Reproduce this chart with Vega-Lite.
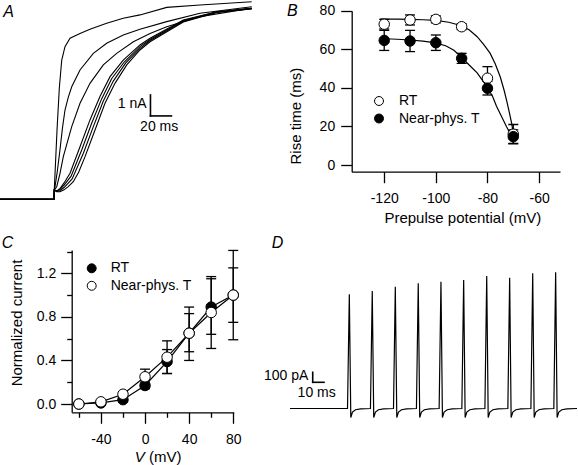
{
  "$schema": "https://vega.github.io/schema/vega-lite/v6.json",
  "width": 578,
  "height": 465,
  "padding": 0,
  "autosize": {"type": "none"},
  "background": "white",
  "config": {
    "view": {"stroke": null},
    "font": "Liberation Sans",
    "axis": {
      "grid": false,
      "domainColor": "black",
      "tickColor": "black",
      "labelColor": "black",
      "titleColor": "black",
      "domainWidth": 1.3,
      "tickWidth": 1.3,
      "labelFont": "Liberation Sans",
      "labelFontSize": 14,
      "titleFont": "Liberation Sans",
      "titleFontSize": 15,
      "titleFontWeight": "normal",
      "labelFlush": false,
      "labelOverlap": false,
      "tickSize": 11
    },
    "text": {"font": "Liberation Sans", "color": "black"}
  },
  "datasets": {
    "traceA": [
      {"trace": 1, "t": 0, "i": 0}, {"trace": 1, "t": 51.5, "i": 0}, {"trace": 1, "t": 51.7, "i": 0.44}, {"trace": 1, "t": 54.3, "i": 3.3}, {"trace": 1, "t": 56.5, "i": 5.3}, {"trace": 1, "t": 58.8, "i": 6.63}, {"trace": 1, "t": 61.9, "i": 7.27}, {"trace": 1, "t": 66.7, "i": 7.67}, {"trace": 1, "t": 76.2, "i": 7.9}, {"trace": 1, "t": 85.7, "i": 8.1}, {"trace": 1, "t": 101.6, "i": 8.38}, {"trace": 1, "t": 117.4, "i": 8.62}, {"trace": 1, "t": 133.3, "i": 8.78}, {"trace": 1, "t": 158.8, "i": 9.14}, {"trace": 1, "t": 190.5, "i": 9.25}, {"trace": 1, "t": 239.7, "i": 9.41},
      {"trace": 2, "t": 0, "i": 0}, {"trace": 2, "t": 51.5, "i": 0}, {"trace": 2, "t": 51.7, "i": 0.44}, {"trace": 2, "t": 52.4, "i": 0.6}, {"trace": 2, "t": 54.5, "i": 1.3}, {"trace": 2, "t": 57.1, "i": 2.35}, {"trace": 2, "t": 59.5, "i": 3.4}, {"trace": 2, "t": 61.9, "i": 4.25}, {"trace": 2, "t": 65, "i": 4.85}, {"trace": 2, "t": 68.3, "i": 5.36}, {"trace": 2, "t": 76.2, "i": 6.16}, {"trace": 2, "t": 88.9, "i": 6.95}, {"trace": 2, "t": 101.6, "i": 7.43}, {"trace": 2, "t": 117.4, "i": 7.82}, {"trace": 2, "t": 133.3, "i": 8.1}, {"trace": 2, "t": 158.8, "i": 8.46}, {"trace": 2, "t": 190.5, "i": 8.86}, {"trace": 2, "t": 239.7, "i": 9.17},
      {"trace": 3, "t": 0, "i": 0}, {"trace": 3, "t": 51.5, "i": 0}, {"trace": 3, "t": 51.7, "i": 0.44}, {"trace": 3, "t": 54, "i": 0.6}, {"trace": 3, "t": 57, "i": 1.2}, {"trace": 3, "t": 60.3, "i": 2.03}, {"trace": 3, "t": 68.3, "i": 3.46}, {"trace": 3, "t": 76.2, "i": 4.57}, {"trace": 3, "t": 85.7, "i": 5.52}, {"trace": 3, "t": 98.4, "i": 6.4}, {"trace": 3, "t": 111.1, "i": 6.95}, {"trace": 3, "t": 127, "i": 7.5}, {"trace": 3, "t": 142.9, "i": 7.9}, {"trace": 3, "t": 158.8, "i": 8.22}, {"trace": 3, "t": 190.5, "i": 8.7}, {"trace": 3, "t": 239.7, "i": 9.1},
      {"trace": 4, "t": 0, "i": 0}, {"trace": 4, "t": 51.5, "i": 0}, {"trace": 4, "t": 51.7, "i": 0.44}, {"trace": 4, "t": 54, "i": 0.4}, {"trace": 4, "t": 57, "i": 0.5}, {"trace": 4, "t": 61, "i": 0.78}, {"trace": 4, "t": 66.7, "i": 1.24}, {"trace": 4, "t": 76.2, "i": 2.5}, {"trace": 4, "t": 85.7, "i": 3.78}, {"trace": 4, "t": 95.2, "i": 4.89}, {"trace": 4, "t": 104.8, "i": 5.84}, {"trace": 4, "t": 117.4, "i": 6.63}, {"trace": 4, "t": 133.3, "i": 7.35}, {"trace": 4, "t": 142.9, "i": 7.67}, {"trace": 4, "t": 174.6, "i": 8.54}, {"trace": 4, "t": 206.4, "i": 8.93}, {"trace": 4, "t": 239.7, "i": 9.1},
      {"trace": 5, "t": 0, "i": 0}, {"trace": 5, "t": 51.5, "i": 0}, {"trace": 5, "t": 51.7, "i": 0.44}, {"trace": 5, "t": 54, "i": 0.39}, {"trace": 5, "t": 57, "i": 0.46}, {"trace": 5, "t": 61, "i": 0.68}, {"trace": 5, "t": 67.7, "i": 1.1}, {"trace": 5, "t": 77.8, "i": 2.35}, {"trace": 5, "t": 87.3, "i": 3.62}, {"trace": 5, "t": 96.8, "i": 4.78}, {"trace": 5, "t": 106.3, "i": 5.74}, {"trace": 5, "t": 118.5, "i": 6.55}, {"trace": 5, "t": 133.3, "i": 7.27}, {"trace": 5, "t": 142.9, "i": 7.61}, {"trace": 5, "t": 174.6, "i": 8.51}, {"trace": 5, "t": 206.4, "i": 8.92}, {"trace": 5, "t": 239.7, "i": 9.09},
      {"trace": 6, "t": 0, "i": 0}, {"trace": 6, "t": 51.5, "i": 0}, {"trace": 6, "t": 51.7, "i": 0.44}, {"trace": 6, "t": 54, "i": 0.37}, {"trace": 6, "t": 57, "i": 0.41}, {"trace": 6, "t": 61, "i": 0.56}, {"trace": 6, "t": 68.7, "i": 0.97}, {"trace": 6, "t": 79.4, "i": 2.19}, {"trace": 6, "t": 88.9, "i": 3.46}, {"trace": 6, "t": 98.4, "i": 4.68}, {"trace": 6, "t": 107.9, "i": 5.63}, {"trace": 6, "t": 119.6, "i": 6.48}, {"trace": 6, "t": 133.3, "i": 7.19}, {"trace": 6, "t": 142.9, "i": 7.56}, {"trace": 6, "t": 174.6, "i": 8.48}, {"trace": 6, "t": 206.4, "i": 8.91}, {"trace": 6, "t": 239.7, "i": 9.08},
      {"trace": 7, "t": 0, "i": 0}, {"trace": 7, "t": 51.5, "i": 0}, {"trace": 7, "t": 51.7, "i": 0.44}, {"trace": 7, "t": 54, "i": 0.36}, {"trace": 7, "t": 57.1, "i": 0.36}, {"trace": 7, "t": 61, "i": 0.45}, {"trace": 7, "t": 65, "i": 0.6}, {"trace": 7, "t": 69.8, "i": 0.84}, {"trace": 7, "t": 75, "i": 1.3}, {"trace": 7, "t": 81, "i": 2.03}, {"trace": 7, "t": 90.5, "i": 3.3}, {"trace": 7, "t": 100, "i": 4.57}, {"trace": 7, "t": 109.5, "i": 5.52}, {"trace": 7, "t": 120.7, "i": 6.4}, {"trace": 7, "t": 133.3, "i": 7.11}, {"trace": 7, "t": 142.9, "i": 7.5}, {"trace": 7, "t": 174.6, "i": 8.44}, {"trace": 7, "t": 206.4, "i": 8.9}, {"trace": 7, "t": 239.7, "i": 9.06}
    ],
    "Bpts": [
      {"s": "RT", "v": -120, "r": 73.0, "lo": 70.5, "hi": 75.5},
      {"s": "RT", "v": -110, "r": 75.2, "lo": 72.6, "hi": 77.8},
      {"s": "RT", "v": -100, "r": 75.5, "lo": 73.7, "hi": 77.3},
      {"s": "RT", "v": -90, "r": 71.7, "lo": 70.2, "hi": 73.2},
      {"s": "RT", "v": -80, "r": 45.0, "lo": 39.0, "hi": 51.0},
      {"s": "RT", "v": -70, "r": 16.0, "lo": 11.0, "hi": 21.0},
      {"s": "Near-phys. T", "v": -120, "r": 64.6, "lo": 59.4, "hi": 69.8},
      {"s": "Near-phys. T", "v": -110, "r": 64.3, "lo": 58.8, "hi": 69.8},
      {"s": "Near-phys. T", "v": -100, "r": 63.4, "lo": 59.4, "hi": 67.4},
      {"s": "Near-phys. T", "v": -90, "r": 55.3, "lo": 52.7, "hi": 57.9},
      {"s": "Near-phys. T", "v": -80, "r": 39.8, "lo": 36.3, "hi": 43.4},
      {"s": "Near-phys. T", "v": -70, "r": 14.7, "lo": 11.2, "hi": 18.2}
    ],
    "Bfit": [
      {"s": "RT", "v": -121.6, "r": 75.6}, {"s": "RT", "v": -115, "r": 75.6}, {"s": "RT", "v": -110, "r": 75.5}, {"s": "RT", "v": -105, "r": 75.3}, {"s": "RT", "v": -100, "r": 75.0}, {"s": "RT", "v": -95, "r": 74.0}, {"s": "RT", "v": -90, "r": 72.2}, {"s": "RT", "v": -87, "r": 70.0}, {"s": "RT", "v": -84, "r": 66.5}, {"s": "RT", "v": -81.5, "r": 62.5}, {"s": "RT", "v": -79, "r": 58.0}, {"s": "RT", "v": -77, "r": 52.5}, {"s": "RT", "v": -75, "r": 45.5}, {"s": "RT", "v": -73.5, "r": 38.5}, {"s": "RT", "v": -72.5, "r": 33.0}, {"s": "RT", "v": -71.5, "r": 27.0}, {"s": "RT", "v": -70.6, "r": 21.5}, {"s": "RT", "v": -70, "r": 16.5},
      {"s": "Near", "v": -121.6, "r": 65.6}, {"s": "Near", "v": -115, "r": 65.2}, {"s": "Near", "v": -110, "r": 64.8}, {"s": "Near", "v": -105, "r": 64.2}, {"s": "Near", "v": -100, "r": 63.3}, {"s": "Near", "v": -96, "r": 61.7}, {"s": "Near", "v": -93, "r": 59.5}, {"s": "Near", "v": -90, "r": 55.8}, {"s": "Near", "v": -87, "r": 51.7}, {"s": "Near", "v": -84, "r": 47.8}, {"s": "Near", "v": -82, "r": 44.0}, {"s": "Near", "v": -80, "r": 40.2}, {"s": "Near", "v": -78, "r": 35.5}, {"s": "Near", "v": -76.5, "r": 30.5}, {"s": "Near", "v": -74.5, "r": 25.0}, {"s": "Near", "v": -72.6, "r": 19.8}, {"s": "Near", "v": -71.5, "r": 17.0}, {"s": "Near", "v": -70.3, "r": 14.7}
    ],
    "Cpts": [
      {"s": "RT", "v": -60, "n": 0.0, "lo": 0.0, "hi": 0.0},
      {"s": "RT", "v": -40, "n": 0.01, "lo": 0.0, "hi": 0.02},
      {"s": "RT", "v": -20, "n": 0.04, "lo": 0.02, "hi": 0.06},
      {"s": "RT", "v": 0, "n": 0.17, "lo": 0.14, "hi": 0.2},
      {"s": "RT", "v": 20, "n": 0.39, "lo": 0.28, "hi": 0.5},
      {"s": "RT", "v": 40, "n": 0.65, "lo": 0.4, "hi": 0.89},
      {"s": "RT", "v": 60, "n": 0.89, "lo": 0.64, "hi": 1.17},
      {"s": "RT", "v": 80, "n": 1.0, "lo": 0.59, "hi": 1.41},
      {"s": "Near-phys. T", "v": -60, "n": 0.0, "lo": 0.0, "hi": 0.0},
      {"s": "Near-phys. T", "v": -40, "n": 0.02, "lo": 0.01, "hi": 0.03},
      {"s": "Near-phys. T", "v": -20, "n": 0.09, "lo": 0.07, "hi": 0.11},
      {"s": "Near-phys. T", "v": 0, "n": 0.25, "lo": 0.18, "hi": 0.32},
      {"s": "Near-phys. T", "v": 20, "n": 0.43, "lo": 0.28, "hi": 0.58},
      {"s": "Near-phys. T", "v": 40, "n": 0.65, "lo": 0.48, "hi": 0.83},
      {"s": "Near-phys. T", "v": 60, "n": 0.84, "lo": 0.51, "hi": 1.15},
      {"s": "Near-phys. T", "v": 80, "n": 1.0, "lo": 0.75, "hi": 1.25}
    ],
    "traceD": [
      {"t": 0, "p": 0},
      {"t": 50.9, "p": 0}, {"t": 52.5, "p": 1142}, {"t": 53.8, "p": -90}, {"t": 55.3, "p": -35}, {"t": 58, "p": -12}, {"t": 62.5, "p": -3},
      {"t": 71.2, "p": 0}, {"t": 72.8, "p": 1175}, {"t": 74.1, "p": -90}, {"t": 75.6, "p": -35}, {"t": 78.3, "p": -12}, {"t": 82.8, "p": -3},
      {"t": 91.6, "p": 0}, {"t": 93.2, "p": 1218}, {"t": 94.5, "p": -90}, {"t": 96, "p": -35}, {"t": 98.7, "p": -12}, {"t": 103.2, "p": -3},
      {"t": 111.9, "p": 0}, {"t": 113.5, "p": 1252}, {"t": 114.8, "p": -90}, {"t": 116.3, "p": -35}, {"t": 119, "p": -12}, {"t": 123.5, "p": -3},
      {"t": 132, "p": 0}, {"t": 133.6, "p": 1268}, {"t": 134.9, "p": -90}, {"t": 136.4, "p": -35}, {"t": 139.1, "p": -12}, {"t": 143.6, "p": -3},
      {"t": 152.1, "p": 0}, {"t": 153.7, "p": 1285}, {"t": 155, "p": -90}, {"t": 156.5, "p": -35}, {"t": 159.2, "p": -12}, {"t": 163.7, "p": -3},
      {"t": 172.5, "p": 0}, {"t": 174.1, "p": 1325}, {"t": 175.4, "p": -90}, {"t": 176.9, "p": -35}, {"t": 179.6, "p": -12}, {"t": 184.1, "p": -3},
      {"t": 192.8, "p": 0}, {"t": 194.4, "p": 1308}, {"t": 195.7, "p": -90}, {"t": 197.2, "p": -35}, {"t": 199.9, "p": -12}, {"t": 204.4, "p": -3},
      {"t": 213.2, "p": 0}, {"t": 214.8, "p": 1352}, {"t": 216.1, "p": -90}, {"t": 217.6, "p": -35}, {"t": 220.3, "p": -12}, {"t": 224.8, "p": -3},
      {"t": 233.5, "p": 0}, {"t": 235.1, "p": 1362}, {"t": 236.4, "p": -90}, {"t": 237.9, "p": -35}, {"t": 240.6, "p": -12}, {"t": 245.1, "p": -3},
      {"t": 254, "p": 0}
    ]
  },
  "layer": [
    {
      "layer": [
        {
          "data": {"name": "traceA"},
          "mark": {"type": "line", "color": "black", "strokeWidth": 1.1},
          "encoding": {
            "x": {"field": "t", "type": "quantitative", "scale": {"domain": [0, 240], "range": [0, 252], "nice": false, "zero": false}, "axis": null},
            "y": {"field": "i", "type": "quantitative", "scale": {"domain": [0, 9.49], "range": [199.3, 0], "nice": false, "zero": false}, "axis": null},
            "detail": {"field": "trace", "type": "nominal"}
          }
        },
        {
          "data": {"values": [{"x1": 143.3, "x2": 143.3, "y1": 3.97, "y2": 4.97}, {"x1": 143.3, "x2": 163.3, "y1": 3.97, "y2": 3.97}]},
          "mark": {"type": "rule", "color": "black", "strokeWidth": 1.6, "strokeCap": "square"},
          "encoding": {
            "x": {"field": "x1", "type": "quantitative", "scale": {"domain": [0, 240], "range": [0, 252], "nice": false, "zero": false}, "axis": null},
            "x2": {"field": "x2"},
            "y": {"field": "y1", "type": "quantitative", "scale": {"domain": [0, 9.49], "range": [199.3, 0], "nice": false, "zero": false}, "axis": null},
            "y2": {"field": "y2"}
          }
        },
        {
          "data": {"values": [{"t": 139.7, "i": 4.36, "label": "1 nA"}]},
          "mark": {"type": "text", "align": "right", "baseline": "alphabetic", "fontSize": 14},
          "encoding": {
            "x": {"field": "t", "type": "quantitative", "scale": {"domain": [0, 240], "range": [0, 252], "nice": false, "zero": false}, "axis": null},
            "y": {"field": "i", "type": "quantitative", "scale": {"domain": [0, 9.49], "range": [199.3, 0], "nice": false, "zero": false}, "axis": null},
            "text": {"field": "label"}
          }
        },
        {
          "data": {"values": [{"t": 151.6, "i": 3.27, "label": "20 ms"}]},
          "mark": {"type": "text", "align": "center", "baseline": "alphabetic", "fontSize": 14},
          "encoding": {
            "x": {"field": "t", "type": "quantitative", "scale": {"domain": [0, 240], "range": [0, 252], "nice": false, "zero": false}, "axis": null},
            "y": {"field": "i", "type": "quantitative", "scale": {"domain": [0, 9.49], "range": [199.3, 0], "nice": false, "zero": false}, "axis": null},
            "text": {"field": "label"}
          }
        },
        {
          "data": {"values": [{"t": 3.1, "i": 8.7, "label": "A"}]},
          "mark": {"type": "text", "align": "left", "baseline": "alphabetic", "fontSize": 16, "fontStyle": "italic"},
          "encoding": {
            "x": {"field": "t", "type": "quantitative", "scale": {"domain": [0, 240], "range": [0, 252], "nice": false, "zero": false}, "axis": null},
            "y": {"field": "i", "type": "quantitative", "scale": {"domain": [0, 9.49], "range": [199.3, 0], "nice": false, "zero": false}, "axis": null},
            "text": {"field": "label"}
          }
        }
      ]
    },
    {
      "layer": [
        {
          "data": {"name": "Bpts"},
          "mark": {"type": "rule", "color": "black", "strokeWidth": 1.3},
          "encoding": {
            "x": {"field": "v", "type": "quantitative", "scale": {"domain": [-132.6, -51.9], "range": [351.7, 560], "nice": false, "zero": false},
              "axis": {"orient": "bottom", "offset": -293.3, "values": [-120, -100, -80, -60], "labelPadding": 9, "labelExpr": "datum.value < 0 ? '-' + abs(datum.value) : datum.label", "title": "Prepulse potential (mV)", "titleX": 462.3, "titleY": 50.6, "titleAlign": "center", "titleBaseline": "alphabetic", "titleAngle": 0}},
            "y": {"field": "lo", "type": "quantitative", "scale": {"domain": [-3.47, 80], "range": [171.7, 10.7], "nice": false, "zero": false},
              "axis": {"orient": "left", "offset": -351.7, "values": [0, 20, 40, 60, 80], "labelPadding": 6, "title": "Rise time (ms)", "titleX": -51, "titleY": 115.7, "titleAlign": "center", "titleBaseline": "alphabetic", "titleAngle": 270}},
            "y2": {"field": "hi"}
          }
        },
        {
          "data": {"name": "Bpts"},
          "mark": {"type": "tick", "orient": "horizontal", "color": "black", "size": 10, "thickness": 1.3, "opacity": 1},
          "encoding": {
            "x": {"field": "v", "type": "quantitative", "scale": {"domain": [-132.6, -51.9], "range": [351.7, 560], "nice": false, "zero": false},
              "axis": {"orient": "bottom", "offset": -293.3, "values": [-120, -100, -80, -60], "labelPadding": 9, "labelExpr": "datum.value < 0 ? '-' + abs(datum.value) : datum.label", "title": "Prepulse potential (mV)", "titleX": 462.3, "titleY": 50.6, "titleAlign": "center", "titleBaseline": "alphabetic", "titleAngle": 0}},
            "y": {"field": "lo", "type": "quantitative", "scale": {"domain": [-3.47, 80], "range": [171.7, 10.7], "nice": false, "zero": false},
              "axis": {"orient": "left", "offset": -351.7, "values": [0, 20, 40, 60, 80], "labelPadding": 6, "title": "Rise time (ms)", "titleX": -51, "titleY": 115.7, "titleAlign": "center", "titleBaseline": "alphabetic", "titleAngle": 270}}
          }
        },
        {
          "data": {"name": "Bpts"},
          "mark": {"type": "tick", "orient": "horizontal", "color": "black", "size": 10, "thickness": 1.3, "opacity": 1},
          "encoding": {
            "x": {"field": "v", "type": "quantitative", "scale": {"domain": [-132.6, -51.9], "range": [351.7, 560], "nice": false, "zero": false},
              "axis": {"orient": "bottom", "offset": -293.3, "values": [-120, -100, -80, -60], "labelPadding": 9, "labelExpr": "datum.value < 0 ? '-' + abs(datum.value) : datum.label", "title": "Prepulse potential (mV)", "titleX": 462.3, "titleY": 50.6, "titleAlign": "center", "titleBaseline": "alphabetic", "titleAngle": 0}},
            "y": {"field": "hi", "type": "quantitative", "scale": {"domain": [-3.47, 80], "range": [171.7, 10.7], "nice": false, "zero": false},
              "axis": {"orient": "left", "offset": -351.7, "values": [0, 20, 40, 60, 80], "labelPadding": 6, "title": "Rise time (ms)", "titleX": -51, "titleY": 115.7, "titleAlign": "center", "titleBaseline": "alphabetic", "titleAngle": 270}}
          }
        },
        {
          "data": {"name": "Bfit"},
          "mark": {"type": "line", "color": "black", "strokeWidth": 1.2},
          "encoding": {
            "x": {"field": "v", "type": "quantitative", "scale": {"domain": [-132.6, -51.9], "range": [351.7, 560], "nice": false, "zero": false},
              "axis": {"orient": "bottom", "offset": -293.3, "values": [-120, -100, -80, -60], "labelPadding": 9, "labelExpr": "datum.value < 0 ? '-' + abs(datum.value) : datum.label", "title": "Prepulse potential (mV)", "titleX": 462.3, "titleY": 50.6, "titleAlign": "center", "titleBaseline": "alphabetic", "titleAngle": 0}},
            "y": {"field": "r", "type": "quantitative", "scale": {"domain": [-3.47, 80], "range": [171.7, 10.7], "nice": false, "zero": false},
              "axis": {"orient": "left", "offset": -351.7, "values": [0, 20, 40, 60, 80], "labelPadding": 6, "title": "Rise time (ms)", "titleX": -51, "titleY": 115.7, "titleAlign": "center", "titleBaseline": "alphabetic", "titleAngle": 270}},
            "detail": {"field": "s", "type": "nominal"}
          }
        },
        {
          "data": {"name": "Bpts"},
          "mark": {"type": "point", "shape": "circle", "filled": true, "size": 110, "stroke": "black", "strokeWidth": 1, "opacity": 1},
          "encoding": {
            "x": {"field": "v", "type": "quantitative", "scale": {"domain": [-132.6, -51.9], "range": [351.7, 560], "nice": false, "zero": false},
              "axis": {"orient": "bottom", "offset": -293.3, "values": [-120, -100, -80, -60], "labelPadding": 9, "labelExpr": "datum.value < 0 ? '-' + abs(datum.value) : datum.label", "title": "Prepulse potential (mV)", "titleX": 462.3, "titleY": 50.6, "titleAlign": "center", "titleBaseline": "alphabetic", "titleAngle": 0}},
            "y": {"field": "r", "type": "quantitative", "scale": {"domain": [-3.47, 80], "range": [171.7, 10.7], "nice": false, "zero": false},
              "axis": {"orient": "left", "offset": -351.7, "values": [0, 20, 40, 60, 80], "labelPadding": 6, "title": "Rise time (ms)", "titleX": -51, "titleY": 115.7, "titleAlign": "center", "titleBaseline": "alphabetic", "titleAngle": 270}},
            "fill": {"field": "s", "type": "nominal", "scale": {"domain": ["RT", "Near-phys. T"], "range": ["white", "black"]},
              "legend": {"orient": "none", "legendX": 372, "legendY": 94, "title": null, "symbolType": "circle", "symbolSize": 80, "symbolStrokeColor": "black", "symbolStrokeWidth": 1, "labelFontSize": 14, "labelFont": "Liberation Sans", "labelColor": "black", "labelOffset": 13, "rowPadding": 3.5, "padding": 0}}
          }
        },
        {
          "data": {"values": [{"v": -157.7, "r": 77.2, "label": "B"}]},
          "mark": {"type": "text", "align": "left", "baseline": "alphabetic", "fontSize": 16, "fontStyle": "italic"},
          "encoding": {
            "x": {"field": "v", "type": "quantitative", "scale": {"domain": [-132.6, -51.9], "range": [351.7, 560], "nice": false, "zero": false},
              "axis": {"orient": "bottom", "offset": -293.3, "values": [-120, -100, -80, -60], "labelPadding": 9, "labelExpr": "datum.value < 0 ? '-' + abs(datum.value) : datum.label", "title": "Prepulse potential (mV)", "titleX": 462.3, "titleY": 50.6, "titleAlign": "center", "titleBaseline": "alphabetic", "titleAngle": 0}},
            "y": {"field": "r", "type": "quantitative", "scale": {"domain": [-3.47, 80], "range": [171.7, 10.7], "nice": false, "zero": false},
              "axis": {"orient": "left", "offset": -351.7, "values": [0, 20, 40, 60, 80], "labelPadding": 6, "title": "Rise time (ms)", "titleX": -51, "titleY": 115.7, "titleAlign": "center", "titleBaseline": "alphabetic", "titleAngle": 270}},
            "text": {"field": "label"}
          }
        }
      ]
    },
    {
      "layer": [
        {
          "data": {"name": "Cpts"},
          "mark": {"type": "rule", "color": "black", "strokeWidth": 1.3},
          "encoding": {
            "x": {"field": "v", "type": "quantitative", "scale": {"domain": [-66.5, 80.5], "range": [71.7, 233.8], "nice": false, "zero": false},
              "axis": {"orient": "bottom", "offset": -52.7, "values": [-40, 0, 40, 80], "labelPadding": 9, "labelExpr": "datum.value < 0 ? '-' + abs(datum.value) : datum.label", "title": "(mV)", "titleX": 148.5, "titleY": 49.4, "titleAlign": "left", "titleBaseline": "alphabetic", "titleAngle": 0}},
            "y": {"field": "lo", "type": "quantitative", "scale": {"domain": [-0.076, 1.414], "range": [412.3, 250], "nice": false, "zero": false},
              "axis": {"orient": "left", "offset": -71.7, "values": [0, 0.4, 0.8, 1.2], "format": ".1f", "labelPadding": 5, "title": "Normalized current", "titleX": -50, "titleY": 322.5, "titleAlign": "center", "titleBaseline": "alphabetic", "titleAngle": 270}},
            "y2": {"field": "hi"}
          }
        },
        {
          "data": {"name": "Cpts"},
          "mark": {"type": "tick", "orient": "horizontal", "color": "black", "size": 10, "thickness": 1.3, "opacity": 1},
          "encoding": {
            "x": {"field": "v", "type": "quantitative", "scale": {"domain": [-66.5, 80.5], "range": [71.7, 233.8], "nice": false, "zero": false},
              "axis": {"orient": "bottom", "offset": -52.7, "values": [-40, 0, 40, 80], "labelPadding": 9, "labelExpr": "datum.value < 0 ? '-' + abs(datum.value) : datum.label", "title": "(mV)", "titleX": 148.5, "titleY": 49.4, "titleAlign": "left", "titleBaseline": "alphabetic", "titleAngle": 0}},
            "y": {"field": "lo", "type": "quantitative", "scale": {"domain": [-0.076, 1.414], "range": [412.3, 250], "nice": false, "zero": false},
              "axis": {"orient": "left", "offset": -71.7, "values": [0, 0.4, 0.8, 1.2], "format": ".1f", "labelPadding": 5, "title": "Normalized current", "titleX": -50, "titleY": 322.5, "titleAlign": "center", "titleBaseline": "alphabetic", "titleAngle": 270}}
          }
        },
        {
          "data": {"name": "Cpts"},
          "mark": {"type": "tick", "orient": "horizontal", "color": "black", "size": 10, "thickness": 1.3, "opacity": 1},
          "encoding": {
            "x": {"field": "v", "type": "quantitative", "scale": {"domain": [-66.5, 80.5], "range": [71.7, 233.8], "nice": false, "zero": false},
              "axis": {"orient": "bottom", "offset": -52.7, "values": [-40, 0, 40, 80], "labelPadding": 9, "labelExpr": "datum.value < 0 ? '-' + abs(datum.value) : datum.label", "title": "(mV)", "titleX": 148.5, "titleY": 49.4, "titleAlign": "left", "titleBaseline": "alphabetic", "titleAngle": 0}},
            "y": {"field": "hi", "type": "quantitative", "scale": {"domain": [-0.076, 1.414], "range": [412.3, 250], "nice": false, "zero": false},
              "axis": {"orient": "left", "offset": -71.7, "values": [0, 0.4, 0.8, 1.2], "format": ".1f", "labelPadding": 5, "title": "Normalized current", "titleX": -50, "titleY": 322.5, "titleAlign": "center", "titleBaseline": "alphabetic", "titleAngle": 270}}
          }
        },
        {
          "data": {"name": "Cpts"},
          "mark": {"type": "line", "color": "black", "strokeWidth": 1.2},
          "encoding": {
            "x": {"field": "v", "type": "quantitative", "scale": {"domain": [-66.5, 80.5], "range": [71.7, 233.8], "nice": false, "zero": false},
              "axis": {"orient": "bottom", "offset": -52.7, "values": [-40, 0, 40, 80], "labelPadding": 9, "labelExpr": "datum.value < 0 ? '-' + abs(datum.value) : datum.label", "title": "(mV)", "titleX": 148.5, "titleY": 49.4, "titleAlign": "left", "titleBaseline": "alphabetic", "titleAngle": 0}},
            "y": {"field": "n", "type": "quantitative", "scale": {"domain": [-0.076, 1.414], "range": [412.3, 250], "nice": false, "zero": false},
              "axis": {"orient": "left", "offset": -71.7, "values": [0, 0.4, 0.8, 1.2], "format": ".1f", "labelPadding": 5, "title": "Normalized current", "titleX": -50, "titleY": 322.5, "titleAlign": "center", "titleBaseline": "alphabetic", "titleAngle": 270}},
            "detail": {"field": "s", "type": "nominal"}
          }
        },
        {
          "data": {"name": "Cpts"},
          "mark": {"type": "point", "shape": "circle", "filled": true, "size": 110, "stroke": "black", "strokeWidth": 1, "opacity": 1},
          "encoding": {
            "x": {"field": "v", "type": "quantitative", "scale": {"domain": [-66.5, 80.5], "range": [71.7, 233.8], "nice": false, "zero": false},
              "axis": {"orient": "bottom", "offset": -52.7, "values": [-40, 0, 40, 80], "labelPadding": 9, "labelExpr": "datum.value < 0 ? '-' + abs(datum.value) : datum.label", "title": "(mV)", "titleX": 148.5, "titleY": 49.4, "titleAlign": "left", "titleBaseline": "alphabetic", "titleAngle": 0}},
            "y": {"field": "n", "type": "quantitative", "scale": {"domain": [-0.076, 1.414], "range": [412.3, 250], "nice": false, "zero": false},
              "axis": {"orient": "left", "offset": -71.7, "values": [0, 0.4, 0.8, 1.2], "format": ".1f", "labelPadding": 5, "title": "Normalized current", "titleX": -50, "titleY": 322.5, "titleAlign": "center", "titleBaseline": "alphabetic", "titleAngle": 270}},
            "fill": {"field": "s", "type": "nominal", "scale": {"domain": ["RT", "Near-phys. T"], "range": ["black", "white"]},
              "legend": {"orient": "none", "legendX": 84.7, "legendY": 261.3, "title": null, "symbolType": "circle", "symbolSize": 80, "symbolStrokeColor": "black", "symbolStrokeWidth": 1, "labelFontSize": 14, "labelFont": "Liberation Sans", "labelColor": "black", "labelOffset": 12, "rowPadding": 3.5, "padding": 0}}
          }
        },
        {
          "data": {"values": [{"v": -129.9, "n": 1.435, "label": "C", "size": 16}]},
          "mark": {"type": "text", "align": "left", "baseline": "alphabetic", "fontSize": 16, "fontStyle": "italic"},
          "encoding": {
            "x": {"field": "v", "type": "quantitative", "scale": {"domain": [-66.5, 80.5], "range": [71.7, 233.8], "nice": false, "zero": false},
              "axis": {"orient": "bottom", "offset": -52.7, "values": [-40, 0, 40, 80], "labelPadding": 9, "labelExpr": "datum.value < 0 ? '-' + abs(datum.value) : datum.label", "title": "(mV)", "titleX": 148.5, "titleY": 49.4, "titleAlign": "left", "titleBaseline": "alphabetic", "titleAngle": 0}},
            "y": {"field": "n", "type": "quantitative", "scale": {"domain": [-0.076, 1.414], "range": [412.3, 250], "nice": false, "zero": false},
              "axis": {"orient": "left", "offset": -71.7, "values": [0, 0.4, 0.8, 1.2], "format": ".1f", "labelPadding": 5, "title": "Normalized current", "titleX": -50, "titleY": 322.5, "titleAlign": "center", "titleBaseline": "alphabetic", "titleAngle": 270}},
            "text": {"field": "label"}
          }
        },
        {
          "data": {"values": [{"v": -9.3, "n": -0.53, "label": "V"}]},
          "mark": {"type": "text", "align": "left", "baseline": "alphabetic", "fontSize": 15, "fontStyle": "italic"},
          "encoding": {
            "x": {"field": "v", "type": "quantitative", "scale": {"domain": [-66.5, 80.5], "range": [71.7, 233.8], "nice": false, "zero": false},
              "axis": {"orient": "bottom", "offset": -52.7, "values": [-40, 0, 40, 80], "labelPadding": 9, "labelExpr": "datum.value < 0 ? '-' + abs(datum.value) : datum.label", "title": "(mV)", "titleX": 148.5, "titleY": 49.4, "titleAlign": "left", "titleBaseline": "alphabetic", "titleAngle": 0}},
            "y": {"field": "n", "type": "quantitative", "scale": {"domain": [-0.076, 1.414], "range": [412.3, 250], "nice": false, "zero": false},
              "axis": {"orient": "left", "offset": -71.7, "values": [0, 0.4, 0.8, 1.2], "format": ".1f", "labelPadding": 5, "title": "Normalized current", "titleX": -50, "titleY": 322.5, "titleAlign": "center", "titleBaseline": "alphabetic", "titleAngle": 270}},
            "text": {"field": "label"}
          }
        }
      ]
    },
    {
      "data": {"name": "Cpts"},
      "mark": {"type": "point", "opacity": 0},
      "encoding": {
        "x": {"field": "v", "type": "quantitative", "scale": {"domain": [-66.5, 80.5], "range": [71.7, 233.8], "nice": false, "zero": false},
          "axis": {"orient": "bottom", "offset": -52.7, "values": [-60, -20, 20, 60], "labels": false, "domain": false, "tickSize": 5, "title": null}},
        "y": {"field": "n", "type": "quantitative", "scale": {"domain": [-0.076, 1.414], "range": [412.3, 250], "nice": false, "zero": false},
          "axis": {"orient": "left", "offset": -71.7, "values": [0.2, 0.6, 1.0, 1.4], "labels": false, "domain": false, "tickSize": 5, "title": null}}
      }
    },
    {
      "layer": [
        {
          "data": {"name": "traceD"},
          "mark": {"type": "line", "color": "black", "strokeWidth": 1.2},
          "encoding": {
            "x": {"field": "t", "type": "quantitative", "scale": {"domain": [0, 254], "range": [290, 577], "nice": false, "zero": false}, "axis": null},
            "y": {"field": "p", "type": "quantitative", "scale": {"domain": [0, 1400], "range": [408.5, 268.5], "nice": false, "zero": false}, "axis": null}
          }
        },
        {
          "data": {"values": [{"x1": 20.1, "x2": 20.1, "y1": 262, "y2": 362}, {"x1": 20.1, "x2": 30.1, "y1": 262, "y2": 262}]},
          "mark": {"type": "rule", "color": "black", "strokeWidth": 1.6, "strokeCap": "square"},
          "encoding": {
            "x": {"field": "x1", "type": "quantitative", "scale": {"domain": [0, 254], "range": [290, 577], "nice": false, "zero": false}, "axis": null},
            "x2": {"field": "x2"},
            "y": {"field": "y1", "type": "quantitative", "scale": {"domain": [0, 1400], "range": [408.5, 268.5], "nice": false, "zero": false}, "axis": null},
            "y2": {"field": "y2"}
          }
        },
        {
          "data": {"values": [{"t": 16.2, "p": 285, "label": "100 pA"}]},
          "mark": {"type": "text", "align": "right", "baseline": "alphabetic", "fontSize": 14},
          "encoding": {
            "x": {"field": "t", "type": "quantitative", "scale": {"domain": [0, 254], "range": [290, 577], "nice": false, "zero": false}, "axis": null},
            "y": {"field": "p", "type": "quantitative", "scale": {"domain": [0, 1400], "range": [408.5, 268.5], "nice": false, "zero": false}, "axis": null},
            "text": {"field": "label"}
          }
        },
        {
          "data": {"values": [{"t": 23.6, "p": 118, "label": "10 ms"}]},
          "mark": {"type": "text", "align": "center", "baseline": "alphabetic", "fontSize": 14},
          "encoding": {
            "x": {"field": "t", "type": "quantitative", "scale": {"domain": [0, 254], "range": [290, 577], "nice": false, "zero": false}, "axis": null},
            "y": {"field": "p", "type": "quantitative", "scale": {"domain": [0, 1400], "range": [408.5, 268.5], "nice": false, "zero": false}, "axis": null},
            "text": {"field": "label"}
          }
        },
        {
          "data": {"values": [{"t": -16.2, "p": 1608, "label": "D"}]},
          "mark": {"type": "text", "align": "left", "baseline": "alphabetic", "fontSize": 16, "fontStyle": "italic"},
          "encoding": {
            "x": {"field": "t", "type": "quantitative", "scale": {"domain": [0, 254], "range": [290, 577], "nice": false, "zero": false}, "axis": null},
            "y": {"field": "p", "type": "quantitative", "scale": {"domain": [0, 1400], "range": [408.5, 268.5], "nice": false, "zero": false}, "axis": null},
            "text": {"field": "label"}
          }
        }
      ]
    }
  ],
  "resolve": {
    "scale": {"x": "independent", "y": "independent", "fill": "independent"},
    "axis": {"x": "independent", "y": "independent"},
    "legend": {"fill": "independent"}
  }
}
